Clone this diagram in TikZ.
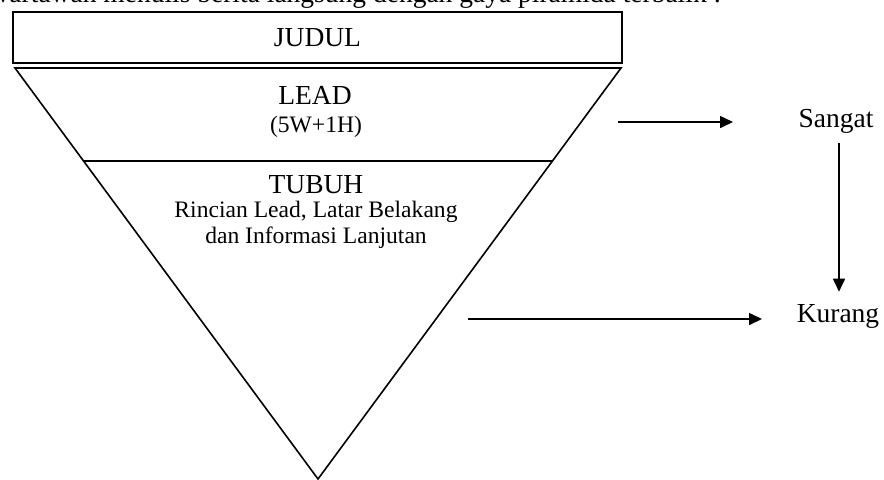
\documentclass[tikz,border=0pt]{standalone}
\usepackage{fontspec}
\setmainfont{Liberation Serif}
\usetikzlibrary{arrows.meta,calc}
\begin{document}
\begin{tikzpicture}[x=0.5pt,y=-0.5pt,line width=0.8pt,
		big/.style={inner sep=0pt,font=\fontsize{13.75}{16}\selectfont},
		small/.style={inner sep=0pt,font=\fontsize{11.8}{13}\selectfont},
		arr/.style={-{Triangle[length=6.5pt,width=6pt]}}]
		\useasboundingbox (0,0) rectangle (884,479);
		\node[big,anchor=base east] (intro) at (722,2) {wartawan menulis berita langsung dengan gaya piramida terbalik :};
		\node[draw,big,minimum width=304.5pt,minimum height=25.5pt] (judul) at (317.5,37.5) {JUDUL};
		\coordinate (tl) at (15,68);
		\coordinate (tr) at (621,68);
		\coordinate (ap) at (318,479);
		\draw (tl) -- (tr) -- (ap) -- cycle;
		\draw ($(tl)!0.2263!(ap)$) -- ($(tr)!0.2263!(ap)$);
		\node[big] (lead) at (315,95) {LEAD};
		\node[small] (wh) at (316,127) {(5W+1H)};
		\node[big] (tubuh) at (316,185) {TUBUH};
		\node[small] (rinci) at (316,212) {Rincian Lead, Latar Belakang};
		\node[small] (info) at (316,238) {dan Informasi Lanjutan};
		\node[big] (sangat) at (836,121.5) {Sangat};
		\node[big] (kurang) at (838,316.5) {Kurang};
		\coordinate (a1) at (618,122);
		\coordinate (b1) at (733,122);
		\coordinate (a2) at (468,319);
		\coordinate (b2) at (762,319);
		\draw[arr] (a1) -- (b1);
		\draw[arr] (a2) -- (b2);
		\draw[arr,shorten <=4.5pt,shorten >=6pt] ([xshift=1.5pt]sangat.south) -- ([xshift=1.5pt]sangat.south |- kurang.north);
	\end{tikzpicture}
\end{document}
